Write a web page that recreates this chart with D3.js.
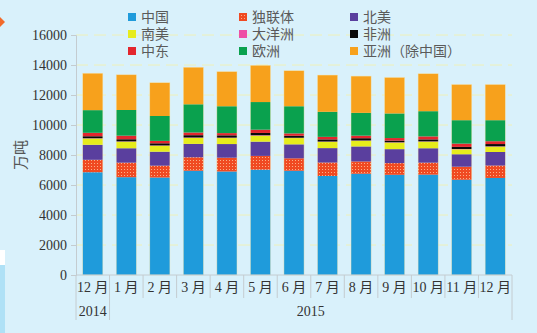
<!DOCTYPE html>
<html><head><meta charset="utf-8">
<script src="https://cdn.jsdelivr.net/npm/d3@7"></script>
<style>
html,body{margin:0;padding:0;background:#d9f1fb;}
svg{display:block;}
</style></head>
<body><svg id="c" width="537" height="333"></svg>
<script>
const months = ["12 月","1 月","2 月","3 月","4 月","5 月","6 月","7 月","8 月","9 月","10 月","11 月","12 月"];
const years = [{label:"2014", from:0, to:1},{label:"2015", from:1, to:13}];
const seriesNames = ["中国","独联体","北美","南美","大洋洲","非洲","中东","欧洲","亚洲（除中国）"];
const china   = [6850,6520,6500,6950,6900,7020,6950,6600,6750,6680,6690,6350,6470];
const cis     = [ 830, 970, 790, 900, 920, 920, 830, 900, 820, 780, 800, 870, 830];
const nAmer   = [1000, 960, 930, 890, 910, 950, 930, 960,1000, 930, 960, 830, 900];
const sAmer   = [ 420, 440, 400, 400, 400, 400, 420, 420, 380, 440, 440, 330, 360];
const oceania = [  20,  20,  20,  30,  30,  30,  20,  20,  20,  20,  20,  20,  20];
const africa  = [ 130, 140, 140, 150, 150, 150, 130, 140, 150, 110, 130, 140, 150];
const mideast = [ 230, 240, 160, 180, 150, 220, 160, 170, 170, 170, 200, 220, 190];
const europe  = [1510,1710,1660,1880,1790,1840,1810,1670,1520,1640,1680,1560,1400];
const asia    = [2460,2350,2220,2470,2310,2450,2370,2450,2450,2400,2500,2380,2380];
const yTicks = [0,2000,4000,6000,8000,10000,12000,14000,16000];
const colors = ["#1f9bdb","#f2542a","#5a3f9e","#e6ec1c","#ee4fa6","#0a0a0a","#e3262d","#0aa14e","#f7a11c"];

const seriesData = [china,cis,nAmer,sAmer,oceania,africa,mideast,europe,asia];
const rows = months.map((m,i)=>{const r={idx:i}; seriesNames.forEach((s,k)=>r[s]=seriesData[k][i]); return r;});

const svg = d3.select("#c");
const defs = svg.append("defs");
const pat = defs.append("pattern").attr("id","dots").attr("patternUnits","userSpaceOnUse")
  .attr("width",3).attr("height",3);
pat.append("rect").attr("width",3).attr("height",3).attr("fill","#f04a22");
pat.append("rect").attr("x",1).attr("y",1).attr("width",1).attr("height",1).attr("fill","#f9b08a");
const fillFor = k => k===1 ? "url(#dots)" : colors[k];

// left decorations
svg.append("rect").attr("x",0).attr("y",265).attr("width",5).attr("height",68).attr("fill","#afe1f6");
svg.append("rect").attr("x",0).attr("y",250).attr("width",5).attr("height",15).attr("fill","#ffffff");
svg.append("path").attr("d","M0,17 L5,22 L0,27 Z").attr("fill","#f26a2a");

const L=76, R=512, T=35, B=275;
const x = d3.scaleBand().domain(d3.range(months.length)).range([L,R]).paddingInner(0.4).paddingOuter(0.2);
const y = d3.scaleLinear().domain([0,16000]).range([B,T]);

// grid
svg.append("g").selectAll("line").data(yTicks.filter(t=>t>0)).join("line")
  .attr("x1",L).attr("x2",R).attr("y1",d=>y(d)).attr("y2",d=>y(d))
  .attr("stroke","#eef0b8").attr("stroke-width",1).attr("stroke-dasharray","12,6");

// y axis
const ya = svg.append("g").attr("transform",`translate(${L},0)`)
  .call(d3.axisLeft(y).tickValues(yTicks).tickSize(5).tickPadding(4).tickFormat(d3.format("d")));
ya.select(".domain").attr("stroke","#c4ccd0");
ya.selectAll(".tick line").attr("stroke","#c4ccd0");
ya.selectAll("text").attr("font-family","'Liberation Serif','DejaVu Serif',serif").attr("font-size",14).attr("fill","#333");

// bars
const stack = d3.stack().keys(seriesNames)(rows);
svg.append("g").selectAll("g").data(stack).join("g")
  .attr("fill",(d,k)=>fillFor(k))
  .selectAll("rect").data(d=>d).join("rect")
  .attr("x",d=>x(d.data.idx)).attr("width",x.bandwidth())
  .attr("y",d=>y(d[1])).attr("height",d=>Math.max(0,y(d[0])-y(d[1])));
// faint bar outline
svg.append("g").selectAll("rect").data(rows).join("rect")
  .attr("x",d=>x(d.idx)).attr("width",x.bandwidth())
  .attr("y",d=>y(stack[stack.length-1][d.idx][1])).attr("height",d=>B-y(stack[stack.length-1][d.idx][1]))
  .attr("fill","none").attr("stroke","#f3e7b5").attr("stroke-width",0.6).attr("opacity",0.7);

// x axis
svg.append("line").attr("x1",L).attr("x2",R).attr("y1",B).attr("y2",B).attr("stroke","#c4ccd0");
const step = x.step();
const bounds = d3.range(months.length+1).map(i=>L + i*step);
const yearBounds = new Set(); years.forEach(yy=>{yearBounds.add(yy.from);yearBounds.add(yy.to);});
svg.append("g").selectAll("line").data(bounds).join("line")
  .attr("x1",d=>d).attr("x2",d=>d).attr("y1",B)
  .attr("y2",(d,i)=>yearBounds.has(i)?320:298)
  .attr("stroke","#c4ccd0");
svg.append("g").selectAll("text").data(months).join("text")
  .attr("x",(d,i)=>x(i)+x.bandwidth()/2).attr("y",292)
  .attr("text-anchor","middle").attr("font-size",14).attr("fill","#333")
  .attr("font-family","'Liberation Serif','Noto Sans CJK SC',serif")
  .text(d=>d);
svg.append("g").selectAll("text").data(years).join("text")
  .attr("x",d=>(bounds[d.from]+bounds[d.to])/2).attr("y",316)
  .attr("text-anchor","middle").attr("font-size",14).attr("fill","#333")
  .attr("font-family","'Liberation Serif',serif").text(d=>d.label);

// y title
svg.append("text").attr("transform","translate(26,155) rotate(-90)")
  .attr("text-anchor","middle").attr("font-size",15).attr("fill","#555")
  .attr("font-family","'Noto Sans CJK SC',sans-serif").text("万吨");

// legend
const legX=[132,243,354], legY=[17,34,51];
const leg = svg.append("g").selectAll("g").data(seriesNames).join("g")
  .attr("transform",(d,i)=>`translate(${legX[i%3]},${legY[Math.floor(i/3)]})`);
leg.append("rect").attr("x",-4).attr("y",-4).attr("width",8).attr("height",8).attr("fill",(d,i)=>fillFor(i));
leg.append("text").attr("x",9).attr("y",5).attr("font-size",14).attr("fill","#5a5a5a")
  .attr("font-family","'Noto Sans CJK SC',sans-serif").text(d=>d);
</script></body></html>
